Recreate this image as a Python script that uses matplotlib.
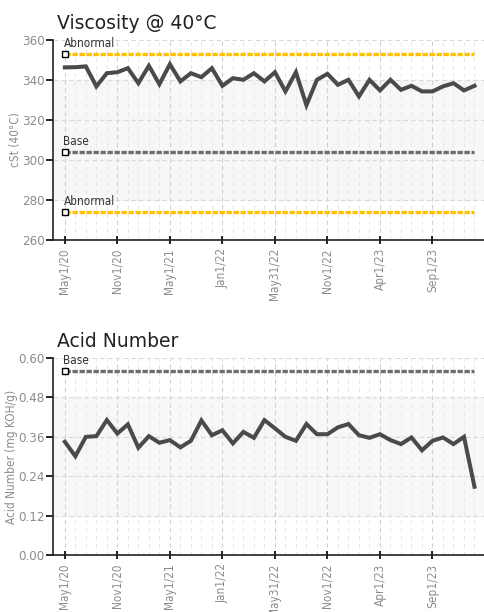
import matplotlib
matplotlib.use('Agg')
import matplotlib.pyplot as plt
from matplotlib.ticker import MultipleLocator, FixedLocator
import numpy as np

# sample values, one per sample (evenly spaced on the x axis)
visc = [346.2, 346.3, 346.7, 336.7, 343.3, 343.8, 345.8, 338.3, 347.0, 337.8,
        347.8, 339.2, 343.3, 341.3, 345.8, 337.0, 340.8, 340.0, 343.3, 339.2,
        343.8, 334.2, 343.8, 327.3, 340.0, 343.0, 337.5, 340.0, 331.7, 340.0,
        334.7, 340.0, 335.0, 337.0, 334.2, 334.2, 336.7, 338.3, 334.7, 337.0]
acid = [0.345, 0.301, 0.360, 0.362, 0.411, 0.370, 0.398, 0.327, 0.362, 0.342,
        0.350, 0.328, 0.348, 0.410, 0.365, 0.380, 0.340, 0.375, 0.357, 0.411,
        0.386, 0.360, 0.348, 0.399, 0.368, 0.368, 0.389, 0.399, 0.365, 0.357,
        0.368, 0.350, 0.338, 0.358, 0.319, 0.348, 0.358, 0.338, 0.360, 0.208]
tick_pos = [0, 5, 10, 15, 20, 25, 30, 35]
tick_labels = ['May1/20', 'Nov1/20', 'May1/21', 'Jan1/22', 'May31/22',
               'Nov1/22', 'Apr1/23', 'Sep1/23']

visc_limits = [('Abnormal', 353, '#FFC000'), ('Base', 304, '#6e6e6e'),
               ('Abnormal', 274, '#FFC000')]
acid_limits = [('Base', 0.56, '#6e6e6e')]

narrow = dict(family='DejaVu Sans', stretch='condensed')
tick_grey = '#8c8c8c'

fig = plt.figure(figsize=(4.85, 6.12), dpi=100)


def draw(ax, vals, limits, ylim, ystep, band, title, ylabel, fmt):
    x = np.arange(len(vals))
    ax.set_xlim(-1.14, len(vals))
    ax.set_ylim(*ylim)
    ax.axhspan(band[0], band[1], color='#f7f7f7', zorder=0)
    ax.yaxis.set_major_locator(MultipleLocator(ystep))
    ax.xaxis.set_major_locator(FixedLocator(tick_pos))
    ax.xaxis.set_minor_locator(FixedLocator(x))
    ax.grid(True, which='major', axis='y', color='#d9d9d9', ls=(0, (4, 3)), lw=0.8)
    ax.grid(True, which='major', axis='x', color='#d0d0d0', ls=(0, (4, 3)), lw=0.8)
    ax.grid(True, which='minor', axis='x', color='#e6e6e6', ls=(0, (4, 4)), lw=0.7)
    ax.set_axisbelow(True)
    for name, val, col in limits:
        ax.plot(x, [val] * len(x), color=col, lw=2.4, ls=(0, (1.6, 0.5)), zorder=3)
        ax.plot([0], [val], marker='s', ms=4, mfc='white', mec='black', mew=1.0,
                zorder=5)
        ax.annotate(name, (0, val), xytext=(-1, 3), textcoords='offset points',
                    fontsize=8.5, color='#333333', ha='left', va='bottom',
                    zorder=6, **narrow)
    ax.plot(x, vals, color='#4a4a4a', lw=2.9, solid_joinstyle='miter', zorder=4)
    for s in ['top', 'right']:
        ax.spines[s].set_visible(False)
    for s in ['left', 'bottom']:
        ax.spines[s].set_linewidth(1.2)
        ax.spines[s].set_color('#222222')
    ax.tick_params(axis='y', direction='out', length=5, width=1.2,
                   labelcolor=tick_grey, labelsize=9.5, pad=1)
    ax.tick_params(axis='x', direction='inout', length=6, width=1.2,
                   labelcolor=tick_grey, labelsize=8.5, labelrotation=90, pad=3)
    ax.tick_params(axis='x', which='minor', length=0)
    ax.set_xticklabels(tick_labels)
    for lab in ax.get_xticklabels() + ax.get_yticklabels():
        lab.set_family('DejaVu Sans')
        lab.set_stretch('condensed')
    ax.yaxis.set_major_formatter(plt.FormatStrFormatter(fmt))
    ax.set_ylabel(ylabel, color=tick_grey, fontsize=8.5, labelpad=0, **narrow)
    ax.set_title(title, loc='left', fontsize=13.5, color='#222222', pad=8, x=0.01)


ax1 = fig.add_axes([0.109, 0.608, 0.891, 0.327])
draw(ax1, visc, visc_limits, (260, 360), 20, (280, 340),
     'Viscosity @ 40\u00b0C', 'cSt (40\u00b0C)', '%d')

ax2 = fig.add_axes([0.109, 0.093, 0.891, 0.322])
draw(ax2, acid, acid_limits, (0, 0.6), 0.12, (0.12, 0.48),
     'Acid Number', 'Acid Number (mg KOH/g)', '%.2f')

fig.savefig('out.png', dpi=100)
